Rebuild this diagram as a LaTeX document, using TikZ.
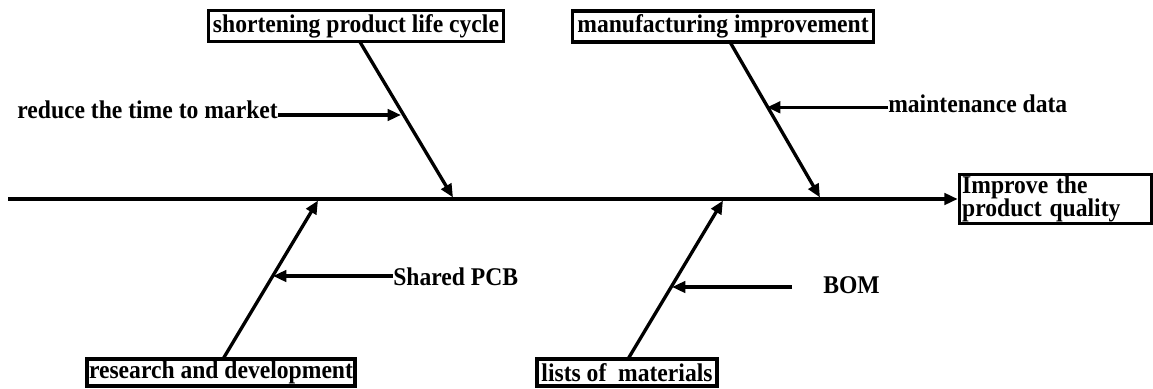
\documentclass[tikz,border=0pt]{standalone}
\usepackage{fontspec}
\usepackage{graphicx}
\setmainfont{Liberation Serif}
\usetikzlibrary{arrows.meta}
\newcommand{\vstr}[1]{\scalebox{1}[1.08]{#1}}
\begin{document}
\begin{tikzpicture}[x=0.75pt,y=-0.75pt,
  every node/.style={font=\fontsize{17.7}{17}\selectfont\bfseries},
  box/.style={draw,line width=2.6pt,inner sep=0pt,align=center},
  lab/.style={inner sep=0pt},
  arr/.style={line width=2.5pt,-{Triangle[length=10pt,width=8.5pt]}}]
\useasboundingbox (0,0) rectangle (1153,389);
% boxes
\node[box,minimum width=221pt,minimum height=23.5pt] (b1) at (356,26) {\vstr{shortening product life cycle}};
\node[box,minimum width=226pt,minimum height=23.5pt] (b2) at (723,26.5) {\vstr{manufacturing improvement}};
\node[box,minimum width=201pt,minimum height=20pt] (b3) at (221,372.5) {\vstr{research and development}};
\node[box,minimum width=135pt,minimum height=20pt] (b4) at (627,372.5) {\vstr{lists of~ materials}};
\node[box,minimum width=144pt,minimum height=37pt,align=left,text width=140pt] (goal) at (1055.5,199) {\vstr{Improve the}\\[-1pt]\vstr{product quality}};
% spine
\coordinate (s0) at (8,199);
\draw[arr] (s0) -- (goal.west);
% bone anchor points
\coordinate (a1) at (360,42);
\coordinate (e1) at (453,197.5);
\coordinate (a2) at (730,42);
\coordinate (e2) at (820,197.5);
\coordinate (a3) at (223,359);
\coordinate (e3) at (318,200.5);
\coordinate (a4) at (628,359);
\coordinate (e4) at (723,200.5);
\draw[arr] (a1) -- (e1);
\draw[arr] (a2) -- (e2);
\draw[arr] (a3) -- (e3);
\draw[arr] (a4) -- (e4);
% cause labels
\node[lab,anchor=base east] (l1) at (278,118) {\vstr{reduce the time to market}};
\node[lab,anchor=base west] (l2) at (888,112.5) {\vstr{maintenance data}};
\node[lab,anchor=base west] (l3) at (393,285) {\vstr{Shared PCB}};
\node[lab,anchor=base west] (l4) at (823,293) {\vstr{BOM}};
\coordinate (t1) at (401,115);
\coordinate (t2) at (767,107.3);
\coordinate (t3) at (273,276);
\coordinate (t4) at (672,287);
\coordinate (f4) at (792,287);
\draw[arr] (l1.east |- t1) -- (t1);
\draw[arr] (l2.west |- t2) -- (t2);
\draw[arr] (l3.west |- t3) -- (t3);
\draw[arr] (f4) -- (t4);
\end{tikzpicture}
\end{document}
